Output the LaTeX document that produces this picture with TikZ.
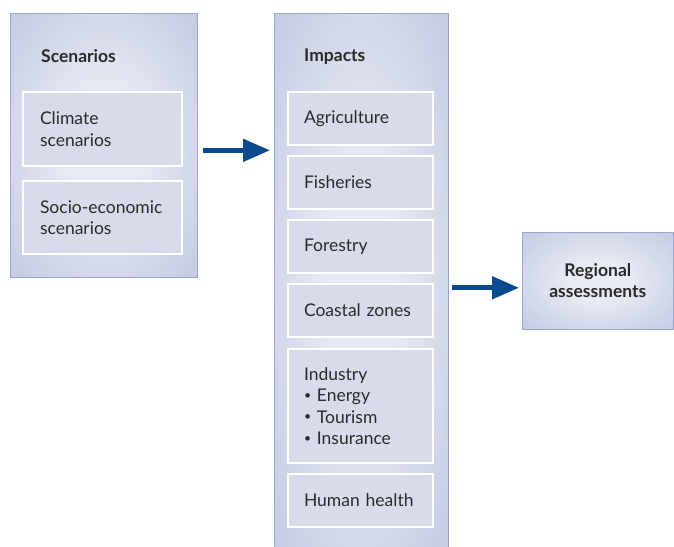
\documentclass[tikz,border=0pt]{standalone}
\usepackage{fontspec}
\setmainfont{Lato}
\usetikzlibrary{positioning,arrows.meta}

\definecolor{panelin}{HTML}{E8EBF4}
\definecolor{panelout}{HTML}{A7B1D5}
\definecolor{panelline}{HTML}{9AA5CD}
\definecolor{itemfill}{HTML}{D8DCEA}
\definecolor{flowblue}{HTML}{0B4A8E}
\definecolor{inktext}{HTML}{2A2A2A}

% soft glow in the middle of the big panels
\pgfdeclareradialshading{panelglow}{\pgfpoint{0bp}{0bp}}{color(0bp)=(panelin); color(10bp)=(panelin); color(55bp)=(panelout); color(75bp)=(panelout)}

% smaller bullet for the industry list
\newcommand\itembul{\raisebox{0.15em}{\scalebox{0.7}{\textbullet}}\ }

\begin{document}
\fontsize{17.5}{21.5}\selectfont
\begin{tikzpicture}[x=1pt,y=-1pt,node distance=9pt,
  panel/.style={shading=panelglow,draw=panelline,line width=0.6pt,anchor=north west,inner sep=0pt},
  title/.style={font=\bfseries,text=inktext,inner sep=0pt},
  item/.style={fill=itemfill,draw=white,line width=2pt,text=inktext,align=left,inner xsep=16pt,inner ysep=0pt,text width=113pt,minimum height=53pt},
  flow/.style={draw=flowblue,line width=5pt,-{Triangle[length=27pt,width=22pt]}}]
  \useasboundingbox (0,0) rectangle (674,546);

  \node[panel,minimum width=187pt,minimum height=264pt] (scen) at (10,13) {};
  \node[panel,minimum width=174pt,minimum height=540pt] (imp) at (274,13) {};
  \node[panel,minimum width=151pt,minimum height=97pt,align=center,font=\bfseries,text=inktext] (reg) at (522,232) {Regional\\assessments};

  \node[title,below right=36pt and 31pt of scen.north west] (scentitle) {Scenarios};
  \node[title,below right=36pt and 30pt of imp.north west] (imptitle) {Impacts};

  \node[item,text width=125pt,inner xsep=17pt,minimum height=74pt,below right=78pt and 12pt of scen.north west] (clim) {Climate\\scenarios};
  \node[item,text width=125pt,inner xsep=17pt,minimum height=73pt,below=13pt of clim] (socio) {Socio-economic\\scenarios};

  \node[item,below right=78pt and 13pt of imp.north west] (agri) {Agriculture};
  \node[item,below=of agri] (fish) {Fisheries};
  \node[item,below=of fish] (forest) {Forestry};
  \node[item,below=of forest] (coast) {Coastal zones};
  \node[item,minimum height=114pt,below=10pt of coast] (industry) {Industry\\\itembul Energy\\\itembul Tourism\\\itembul Insurance};
  \node[item,below=of industry] (health) {Human health};

  \draw[flow,shorten <=5pt,shorten >=4pt] ([yshift=-5pt]scen.east) -- ([yshift=-5pt]scen.east -| imp.west);
  \draw[flow,shorten <=3pt,shorten >=3pt] ([yshift=-7pt]reg.west -| imp.east) -- ([yshift=-7pt]reg.west);
\end{tikzpicture}
\end{document}
